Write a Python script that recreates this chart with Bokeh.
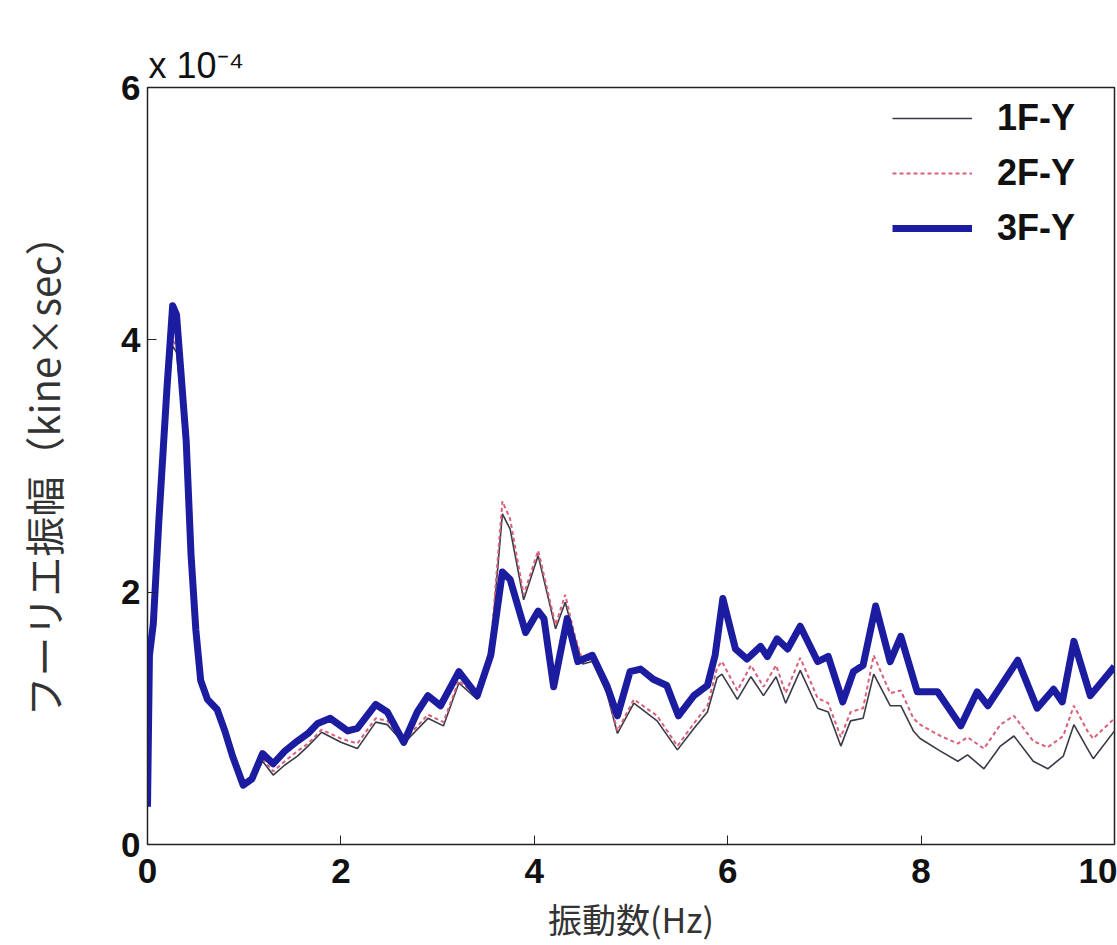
from bokeh.plotting import figure
from bokeh.models import Legend, LegendItem, FixedTicker, Range1d
from bokeh.embed import file_html
from bokeh.resources import INLINE

# Fourier amplitude, units of 1e-4 kine*sec
freq_3f = [0.0, 0.02, 0.06, 0.12, 0.2, 0.26, 0.3, 0.34, 0.4, 0.45, 0.5, 0.55, 0.62, 0.72, 0.8, 0.88, 0.99,
           1.08, 1.19, 1.3, 1.42, 1.55, 1.66, 1.76, 1.89, 2.07, 2.17, 2.36, 2.48, 2.65, 2.79, 2.9, 3.03,
           3.22, 3.41, 3.55, 3.67, 3.75, 3.91, 4.04, 4.1, 4.2, 4.34, 4.45, 4.6, 4.75, 4.86, 4.99, 5.1,
           5.23, 5.37, 5.49, 5.65, 5.79, 5.87, 5.95, 6.08, 6.2, 6.34, 6.41, 6.51, 6.62, 6.75, 6.93, 7.04,
           7.19, 7.3, 7.4, 7.53, 7.68, 7.79, 7.96, 8.17, 8.41, 8.58, 8.69, 8.82, 9.0, 9.2, 9.37, 9.46,
           9.58, 9.75, 10.0]
amp_3f = [0.3, 1.5, 1.75, 2.6, 3.6, 4.27, 4.2, 3.8, 3.2, 2.3, 1.7, 1.3, 1.15, 1.07, 0.9, 0.7, 0.47,
          0.52, 0.72, 0.64, 0.74, 0.82, 0.88, 0.96, 1.0, 0.9, 0.92, 1.11, 1.05, 0.81, 1.05, 1.18, 1.1,
          1.37, 1.18, 1.5, 2.16, 2.1, 1.68, 1.85, 1.79, 1.25, 1.79, 1.45, 1.5, 1.26, 1.02, 1.37, 1.39,
          1.31, 1.26, 1.02, 1.18, 1.26, 1.5, 1.95, 1.55, 1.47, 1.57, 1.49, 1.63, 1.55, 1.73, 1.45, 1.49,
          1.13, 1.37, 1.42, 1.89, 1.45, 1.65, 1.21, 1.21, 0.94, 1.21, 1.1, 1.25, 1.46, 1.08, 1.23, 1.13,
          1.61, 1.18, 1.41]

freq_12f = [0.0, 0.02, 0.06, 0.12, 0.2, 0.26, 0.3, 0.34, 0.4, 0.45, 0.5, 0.55, 0.62, 0.72, 0.8, 0.88, 0.99,
            1.08, 1.19, 1.3, 1.42, 1.55, 1.66, 1.8, 2.0, 2.17, 2.36, 2.48, 2.65, 2.9, 3.06, 3.22, 3.41,
            3.55, 3.67, 3.75, 3.89, 4.04, 4.22, 4.32, 4.41, 4.5, 4.6, 4.75, 4.86, 5.03, 5.27, 5.48, 5.65,
            5.79, 5.89, 5.94, 6.1, 6.24, 6.37, 6.5, 6.6, 6.75, 6.93, 7.04, 7.17, 7.27, 7.4, 7.51, 7.68,
            7.79, 7.92, 7.99, 8.2, 8.38, 8.48, 8.65, 8.82, 8.96, 9.16, 9.31, 9.47, 9.58, 9.72, 9.78, 10.0]
amp_1f = [0.3, 1.45, 1.7, 2.5, 3.5, 3.95, 3.9, 3.6, 3.1, 2.25, 1.65, 1.28, 1.13, 1.05, 0.88, 0.68, 0.46,
          0.5, 0.66, 0.55, 0.63, 0.7, 0.78, 0.89, 0.81, 0.76, 0.97, 0.95, 0.8, 1.0, 0.94, 1.28, 1.15,
          1.55, 2.62, 2.5, 1.94, 2.29, 1.71, 1.92, 1.66, 1.43, 1.45, 1.2, 0.88, 1.12, 0.98, 0.75, 0.92,
          1.05, 1.32, 1.35, 1.15, 1.33, 1.18, 1.33, 1.12, 1.38, 1.08, 1.05, 0.78, 0.98, 1.0, 1.35, 1.1,
          1.1, 0.9, 0.84, 0.74, 0.66, 0.71, 0.6, 0.78, 0.86, 0.66, 0.6, 0.7, 0.95, 0.76, 0.68, 0.9]
amp_2f = [0.3, 1.45, 1.72, 2.55, 3.55, 4.0, 3.95, 3.65, 3.12, 2.27, 1.66, 1.29, 1.14, 1.06, 0.89, 0.69, 0.47,
          0.51, 0.68, 0.58, 0.66, 0.74, 0.8, 0.91, 0.84, 0.8, 1.0, 0.98, 0.82, 1.03, 0.97, 1.3, 1.17,
          1.58, 2.72, 2.58, 1.98, 2.33, 1.74, 1.98, 1.68, 1.45, 1.47, 1.22, 0.9, 1.15, 1.02, 0.78, 0.96,
          1.1, 1.4, 1.45, 1.22, 1.42, 1.25, 1.42, 1.2, 1.48, 1.16, 1.12, 0.85, 1.05, 1.08, 1.5, 1.2,
          1.22, 1.0, 0.95, 0.86, 0.8, 0.85, 0.76, 0.95, 1.02, 0.82, 0.77, 0.86, 1.1, 0.9, 0.84, 1.0]

series_names = ["1F-Y", "2F-Y", "3F-Y"]
x_ticks = [0, 2, 4, 6, 8, 10]
y_ticks = [0, 2, 4, 6]

FONT = "Liberation Sans"
JP = "Noto Sans CJK JP"

p = figure(width=1117, height=945, output_backend="svg", toolbar_location=None,
           x_range=Range1d(0, 10), y_range=Range1d(0, 6),
           min_border_left=147, min_border_right=3, min_border_top=87, min_border_bottom=98,
           background_fill_color="white", border_fill_color="white",
           title="x 10⁻⁴")
p.title.text_font = FONT
p.title.text_font_size = "36px"
p.title.text_font_style = "normal"
p.title.text_color = "#111111"
p.title.align = "left"
p.title.offset = 1
p.title.standoff = 4

p.grid.visible = False
p.outline_line_color = "#222222"
p.outline_line_width = 1.5

r1 = p.line(freq_12f, amp_1f, line_color="#3a3a48", line_width=1.6)
r2 = p.line(freq_12f, amp_2f, line_color="#d8607a", line_width=2, line_dash="4 3")
r3 = p.line(freq_3f, amp_3f, line_color="#1c1ca0", line_width=7, line_join="round")

for ax in (p.xaxis[0], p.yaxis[0]):
    ax.major_tick_in = 9
    ax.major_tick_out = 0
    ax.minor_tick_line_color = None
    ax.axis_line_color = "#222222"
    ax.major_tick_line_color = "#222222"
    ax.major_label_text_font = FONT
    ax.major_label_text_font_style = "bold"
    ax.major_label_text_font_size = "35px"
    ax.major_label_text_color = "#111111"
    ax.axis_label_text_font = JP
    ax.axis_label_text_font_style = "normal"
    ax.axis_label_text_color = "#333333"

p.xaxis[0].ticker = FixedTicker(ticks=x_ticks)
p.yaxis[0].ticker = FixedTicker(ticks=y_ticks)
p.xaxis[0].major_label_standoff = 14
p.yaxis[0].major_label_standoff = 7
p.xaxis[0].axis_label = "振動数(Hz)"
p.xaxis[0].axis_label_text_font_size = "34px"
p.xaxis[0].axis_label_standoff = 8
p.yaxis[0].axis_label = "フーリエ振幅（kine×sec）"
p.yaxis[0].axis_label_text_font_size = "40px"
p.yaxis[0].axis_label_standoff = 46

legend = Legend(items=[LegendItem(label=series_names[0], renderers=[r1]),
                       LegendItem(label=series_names[1], renderers=[r2]),
                       LegendItem(label=series_names[2], renderers=[r3])],
                location="top_right")
legend.label_text_font = FONT
legend.label_text_font_style = "bold"
legend.label_text_font_size = "36px"
legend.label_text_color = "#111111"
legend.label_width = 107
legend.glyph_width = 80
legend.glyph_height = 38
legend.spacing = 13
legend.label_standoff = 25
legend.padding = 9
legend.margin = 10
legend.border_line_color = None
legend.background_fill_alpha = 0.0
p.add_layout(legend)

open("out.html", "w").write(file_html(p, INLINE))
